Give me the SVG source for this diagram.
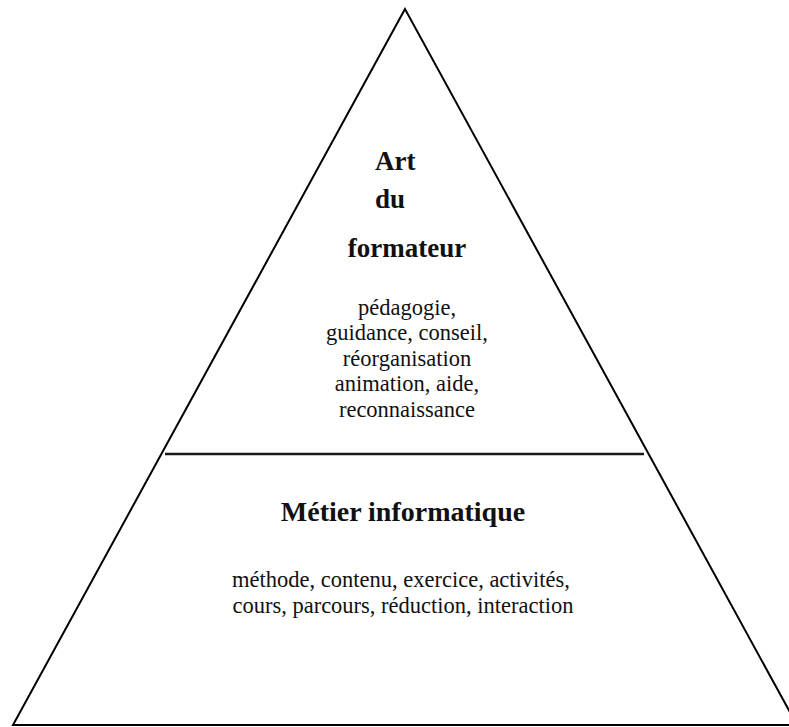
<svg xmlns="http://www.w3.org/2000/svg" width="789" height="727" viewBox="0 0 789 727">
<style>
.shape{fill:none;stroke:#000;stroke-width:2}
.div{stroke:#1a1a1a;stroke-width:2.5}
.t{font-family:"Liberation Serif","Times New Roman",serif;fill:#111;text-anchor:middle}
.b{font-weight:bold;font-size:27px}
.s{font-size:22.5px}
</style>
<rect width="789" height="727" fill="#fff"/>
<g id="pyramid">
<polygon class="shape" points="405,9 13,725 797,725"/>
</g>
<g id="connectors">
<line class="div" x1="165" y1="454" x2="644" y2="454"/>
</g>
<g id="top">
<text class="t b" x="375" y="170" style="text-anchor:start">Art</text>
<text class="t b" x="375" y="208" style="text-anchor:start">du</text>
<text class="t b" x="407" y="257">formateur</text>
<text class="t s" x="407" y="315">pédagogie,</text>
<text class="t s" x="407" y="340">guidance, conseil,</text>
<text class="t s" x="407" y="366">réorganisation</text>
<text class="t s" x="407" y="391">animation, aide,</text>
<text class="t s" x="407" y="417">reconnaissance</text>
</g>
<g id="bottom">
<text class="t b" x="403" y="521" style="font-size:28px">Métier informatique</text>
<text class="t s" x="401" y="587">méthode, contenu, exercice, activités,</text>
<text class="t s" x="403" y="613">cours, parcours, réduction, interaction</text>
</g>
</svg>
